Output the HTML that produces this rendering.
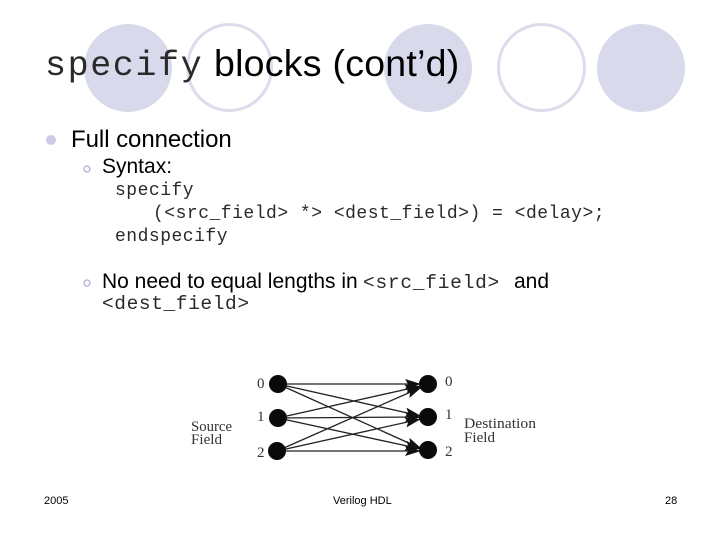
<!DOCTYPE html>
<html><head><meta charset="utf-8"><style>
html,body{margin:0;padding:0;background:#fff}
#s{position:relative;width:720px;height:540px;overflow:hidden;background:#fff}
svg{position:absolute;left:0;top:0}
.t{position:absolute;white-space:pre;font-family:"Liberation Sans",sans-serif;color:#000;line-height:1}
.m{font-family:"Liberation Mono",monospace;color:#2a2a2a}
</style></head><body><div id="s">
<svg width="720" height="540" viewBox="0 0 720 540">
<defs><marker id="a" markerWidth="18" markerHeight="12" refX="16" refY="5" orient="auto" markerUnits="userSpaceOnUse"><path d="M0 0L16 5L0 10L3 5Z" fill="#111"/></marker></defs>
<ellipse cx="128" cy="68" rx="44" ry="44" fill="#d9d9ec"/>
<ellipse cx="229.500" cy="67.500" rx="42" ry="43" fill="#fff" stroke="#dcdcec" stroke-width="3"/>
<ellipse cx="428" cy="68" rx="44" ry="44" fill="#d9d9ec"/>
<ellipse cx="541.500" cy="67.500" rx="43" ry="43" fill="#fff" stroke="#dcdcec" stroke-width="3"/>
<ellipse cx="641" cy="68" rx="44" ry="44" fill="#d9d9ec"/>
<circle cx="51" cy="140" r="5" fill="#ccccea"/>
<circle cx="87" cy="169" r="3" fill="#fff" stroke="#b9b9d9" stroke-width="1.500"/>
<circle cx="87" cy="283" r="3" fill="#fff" stroke="#b9b9d9" stroke-width="1.500"/>
<g stroke="#222" stroke-width="1.300" fill="none">
<line x1="278" y1="384" x2="421" y2="384" marker-end="url(#a)"/>
<line x1="278" y1="384" x2="421" y2="416" marker-end="url(#a)"/>
<line x1="278" y1="384" x2="422" y2="449" marker-end="url(#a)"/>
<line x1="278" y1="418" x2="421" y2="386" marker-end="url(#a)"/>
<line x1="278" y1="418" x2="421" y2="417" marker-end="url(#a)"/>
<line x1="278" y1="418" x2="421" y2="449" marker-end="url(#a)"/>
<line x1="277" y1="451" x2="422" y2="387" marker-end="url(#a)"/>
<line x1="277" y1="451" x2="421" y2="419" marker-end="url(#a)"/>
<line x1="277" y1="451" x2="421" y2="451" marker-end="url(#a)"/>
</g>
<g fill="#0a0a0a">
<circle cx="278" cy="384" r="9"/><circle cx="278" cy="418" r="9"/><circle cx="277" cy="451" r="9"/>
<circle cx="428" cy="384" r="9"/><circle cx="428" cy="417" r="9"/><circle cx="428" cy="450" r="9"/>
</g>
<g font-family="Liberation Serif, serif" font-size="15" fill="#333">
<text x="257" y="388">0</text><text x="257" y="421">1</text><text x="257" y="457">2</text>
<text x="445" y="386">0</text><text x="445" y="419">1</text><text x="445" y="456">2</text>
<text x="191" y="431" textLength="41" lengthAdjust="spacingAndGlyphs">Source</text><text x="191" y="444" textLength="31" lengthAdjust="spacingAndGlyphs">Field</text>
<text x="464" y="428" textLength="72" lengthAdjust="spacingAndGlyphs">Destination</text><text x="464" y="442" textLength="31" lengthAdjust="spacingAndGlyphs">Field</text>
</g>
</svg>
<div class="t m" style="left:45px;top:49px;font-size:35px;letter-spacing:1.600px">specify</div>
<div class="t" style="left:214px;top:45px;font-size:37.500px;letter-spacing:.25px">blocks (cont’d)</div>
<div class="t" style="left:71px;top:128px;font-size:24px;letter-spacing:-.05px">Full connection</div>
<div class="t" style="left:102px;top:156px;font-size:21px">Syntax:</div>
<div class="t m" style="left:115px;top:182px;font-size:18px;letter-spacing:.5px">specify</div>
<div class="t m" style="left:153px;top:205px;font-size:18px;letter-spacing:.5px">(&lt;src_field&gt; *&gt; &lt;dest_field&gt;) = &lt;delay&gt;;</div>
<div class="t m" style="left:115px;top:228px;font-size:18px;letter-spacing:.5px">endspecify</div>
<div class="t" style="left:102px;top:271px;font-size:21px">No need to equal lengths in</div>
<div class="t m" style="left:363px;top:274px;font-size:19.500px;letter-spacing:.75px">&lt;src_field&gt;</div>
<div class="t" style="left:514px;top:271px;font-size:21px">and</div>
<div class="t m" style="left:102px;top:295px;font-size:19.500px;letter-spacing:.6px">&lt;dest_field&gt;</div>
<div class="t" style="left:44px;top:496px;font-size:11px">2005</div>
<div class="t" style="left:333px;top:496px;font-size:11px">Verilog HDL</div>
<div class="t" style="left:665px;top:496px;font-size:11px">28</div>
</div></body></html>
